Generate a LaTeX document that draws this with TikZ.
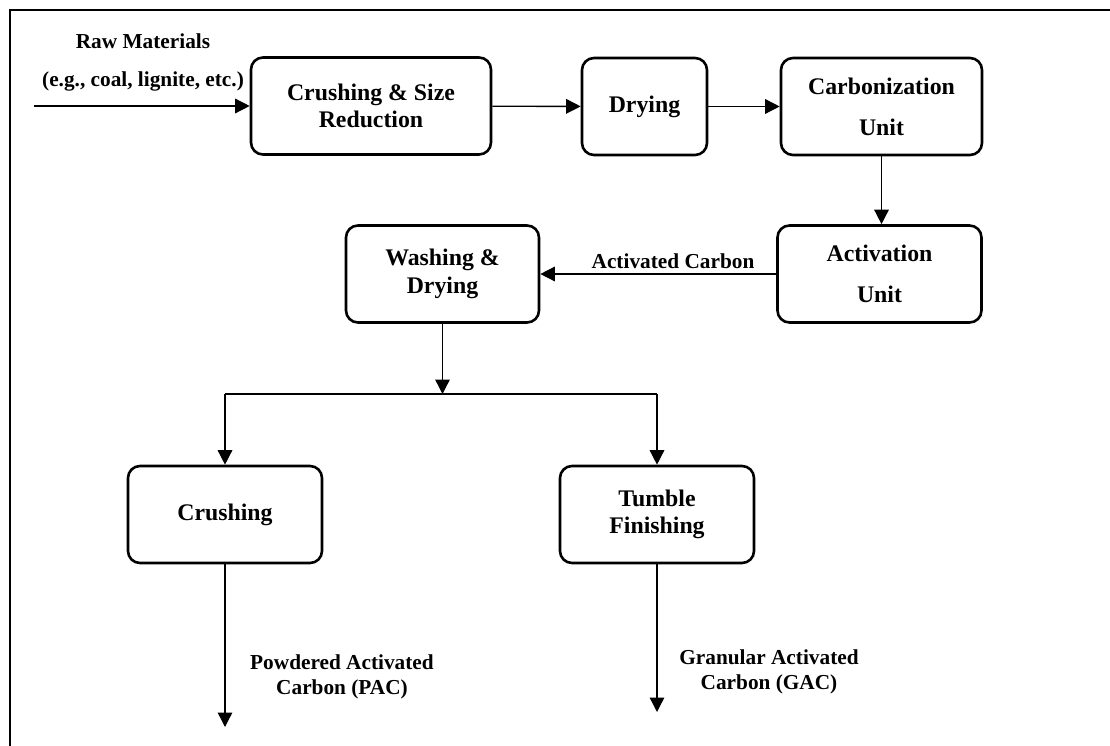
\documentclass[tikz,border=0pt]{standalone}
\usepackage{fontspec}
\setmainfont{Liberation Serif}
\usepackage{tikz}
\usetikzlibrary{arrows.meta,positioning,calc}

\begin{document}
\begin{tikzpicture}[x=1pt,y=-1pt,
  unit/.style={draw,rounded corners=12pt,line width=2.6pt,
               minimum height=97pt,align=center,inner sep=2pt,
               font=\fontsize{23.8}{27.7}\selectfont\bfseries},
  flow/.style={line width=1.4pt,-{Triangle[length=14.5pt,width=14.5pt]}},
  lbl/.style={align=center,font=\fontsize{21.3}{24.8}\selectfont\bfseries},
]
\useasboundingbox (0,0) rectangle (1110,746);
% outer frame
\draw[line width=2pt] (10,746) -- (10,10) -- (1110,10);

% first row --- feed preparation
\node[unit,minimum width=240pt] (crush) at (371,106) {Crushing \& Size\\Reduction};
\node[unit,minimum width=125pt] (dry) at (644.5,106.5) {Drying};
\node[unit,minimum width=201pt] (carb) at (881.5,106.5) {Carbonization\\[13.3pt]Unit};

% second row --- activation
\node[unit,minimum width=204pt] (act) at (879.5,274) {Activation\\[13.3pt]Unit};
\node[unit,minimum width=193pt] (wash) at (442.5,274) {Washing \&\\Drying};

% third row --- finishing
\node[unit,minimum width=194pt] (crsh) at (225,514.5) {Crushing};
\node[unit,minimum width=194pt] (tumb) at (657,514.5) {Tumble\\Finishing};

% feed
\coordinate (raw) at (34,106);
\node[lbl,font=\fontsize{21.3}{38}\selectfont\bfseries] (rawlbl) at (143,62)
  {Raw Materials\\(e.g., coal, lignite, etc.)};
\draw[flow] (raw) -- (crush.west);
\draw[flow] (crush) -- (dry);
\draw[flow] (dry) -- (carb);
\draw[flow] (carb.south) -- (carb.south |- act.north);
\draw[flow] (act) -- (wash);
\node[lbl] (aclbl) at (673,261) {Activated Carbon};

% split to products
\coordinate (split) at (442.5,394);
\draw[flow] (wash) -- (split);
\draw[line width=1.4pt] (crsh.north |- split) -- (tumb.north |- split);
\draw[flow] (crsh.north |- split) -- (crsh);
\draw[flow] (tumb.north |- split) -- (tumb);

% products
\coordinate (pac) at (225,727);
\coordinate (gac) at (657,712);
\draw[flow] (crsh) -- (pac);
\draw[flow] (tumb) -- (gac);
\node[lbl] (paclbl) at (342,677) {Powdered Activated\\Carbon (PAC)};
\node[lbl] (gaclbl) at (769,672) {Granular Activated\\Carbon (GAC)};
\end{tikzpicture}
\end{document}
